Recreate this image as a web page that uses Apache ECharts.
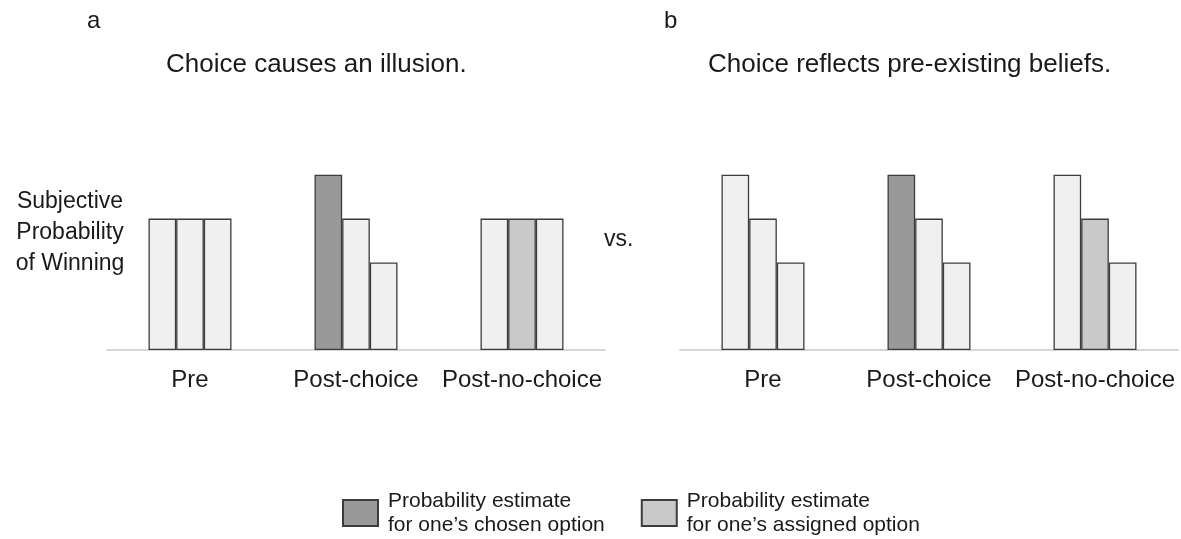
<!DOCTYPE html>
<html>
<head>
<meta charset="utf-8">
<script src="https://cdn.jsdelivr.net/npm/echarts@6/dist/echarts.min.js"></script>
<style>
  html, body { margin: 0; padding: 0; background: #fff; }
  #chart { width: 1181px; height: 539px; }
</style>
</head>
<body>
<div id="chart"></div>
<script>
// categories on both panels
const phases = ['Pre', 'Post-choice', 'Post-no-choice'];

// panel a: choice causes an illusion (option 1, 2, 3 per phase)
const aOpt1 = [3, 4, 3];
const aOpt2 = [3, 3, 3];
const aOpt3 = [3, 2, 3];

// panel b: choice reflects pre-existing beliefs
const bOpt1 = [4, 4, 4];
const bOpt2 = [3, 3, 3];
const bOpt3 = [2, 2, 2];

// which bar is the chosen / assigned one: [phase index, option index]
const chosenBar = [1, 0];
const assignedBar = [2, 1];

const legendChosen = 'Probability estimate\nfor one\u2019s chosen option';
const legendAssigned = 'Probability estimate\nfor one\u2019s assigned option';

const LIGHT = '#f0f0f0', DARK = '#999999', MID = '#c9c9c9', EDGE = '#3c3c3c';
const FONT = '"Liberation Sans", Arial, sans-serif';

function barSeries(values, opt, grid) {
    return {
        type: 'bar',
        xAxisIndex: grid, yAxisIndex: grid,
        barGap: 0,
        barCategoryGap: '50%',
        silent: true,
        itemStyle: { color: LIGHT, borderColor: EDGE, borderWidth: 1.3 },
        data: values.map(function (v, i) {
            let c = LIGHT;
            if (i === chosenBar[0] && opt === chosenBar[1]) c = DARK;
            if (i === assignedBar[0] && opt === assignedBar[1]) c = MID;
            return { value: v, itemStyle: { color: c } };
        })
    };
}

function catAxis(grid) {
    return {
        type: 'category', gridIndex: grid, data: phases,
        axisTick: { show: false },
        axisLine: { lineStyle: { color: '#d6d6d6', width: 2 } },
        axisLabel: { interval: 0, fontSize: 24, color: '#1a1a1a', fontFamily: FONT, margin: 18 }
    };
}
function valAxis(grid) {
    return { type: 'value', gridIndex: grid, min: 0, max: 5, show: false, splitLine: { show: false } };
}

const chart = echarts.init(document.getElementById('chart'));
const option = {
    animation: false,
    backgroundColor: '#fff',
    textStyle: { fontFamily: FONT },
    title: [
        { text: 'a', left: 82, top: 4, textStyle: { fontSize: 24, fontWeight: 'normal', color: '#1a1a1a', fontFamily: FONT } },
        { text: 'Choice causes an illusion.', left: 161, top: 47, textStyle: { fontSize: 26, fontWeight: 'normal', color: '#1a1a1a', fontFamily: FONT } },
        { text: 'b', left: 659, top: 4, textStyle: { fontSize: 24, fontWeight: 'normal', color: '#1a1a1a', fontFamily: FONT } },
        { text: 'Choice reflects pre-existing beliefs.', left: 703, top: 47, textStyle: { fontSize: 26, fontWeight: 'normal', color: '#1a1a1a', fontFamily: FONT } }
    ],
    grid: [
        { left: 107, width: 498, top: 131, bottom: 189 },
        { left: 680, width: 498, top: 131, bottom: 189 },
        { left: 0, width: 1, top: 0, height: 1, show: false }
    ],
    xAxis: [catAxis(0), catAxis(1), { type: 'category', gridIndex: 2, show: false, data: [] }],
    yAxis: [valAxis(0), valAxis(1), { type: 'value', gridIndex: 2, show: false }],
    legend: {
        left: 337, top: 484,
        selectedMode: false,
        icon: 'rect',
        itemWidth: 35, itemHeight: 26,
        itemGap: 36,
        data: [legendChosen, legendAssigned],
        textStyle: { fontSize: 21, lineHeight: 24, color: '#1a1a1a', fontFamily: FONT, padding: [0, 0, 0, 5] }
    },
    graphic: [
        {
            type: 'text', x: 70, y: 186,
            style: {
                text: 'Subjective\nProbability\nof Winning',
                fontSize: 23, lineHeight: 31, fill: '#1a1a1a', fontFamily: FONT,
                textAlign: 'center', textVerticalAlign: 'top'
            }
        },
        {
            type: 'text', x: 604, y: 228,
            style: { text: 'vs.', fontSize: 23, fill: '#1a1a1a', fontFamily: FONT, textVerticalAlign: 'top' }
        }
    ],
    series: [
        barSeries(aOpt1, 0, 0), barSeries(aOpt2, 1, 0), barSeries(aOpt3, 2, 0),
        barSeries(bOpt1, 0, 1), barSeries(bOpt2, 1, 1), barSeries(bOpt3, 2, 1),
        { name: legendChosen, type: 'bar', xAxisIndex: 2, yAxisIndex: 2, data: [],
          itemStyle: { color: DARK, borderColor: EDGE, borderWidth: 1.3 } },
        { name: legendAssigned, type: 'bar', xAxisIndex: 2, yAxisIndex: 2, data: [],
          itemStyle: { color: MID, borderColor: EDGE, borderWidth: 1.3 } }
    ]
};
chart.setOption(option);
window.addEventListener('resize', function () { chart.resize(); });
</script>
</body>
</html>
